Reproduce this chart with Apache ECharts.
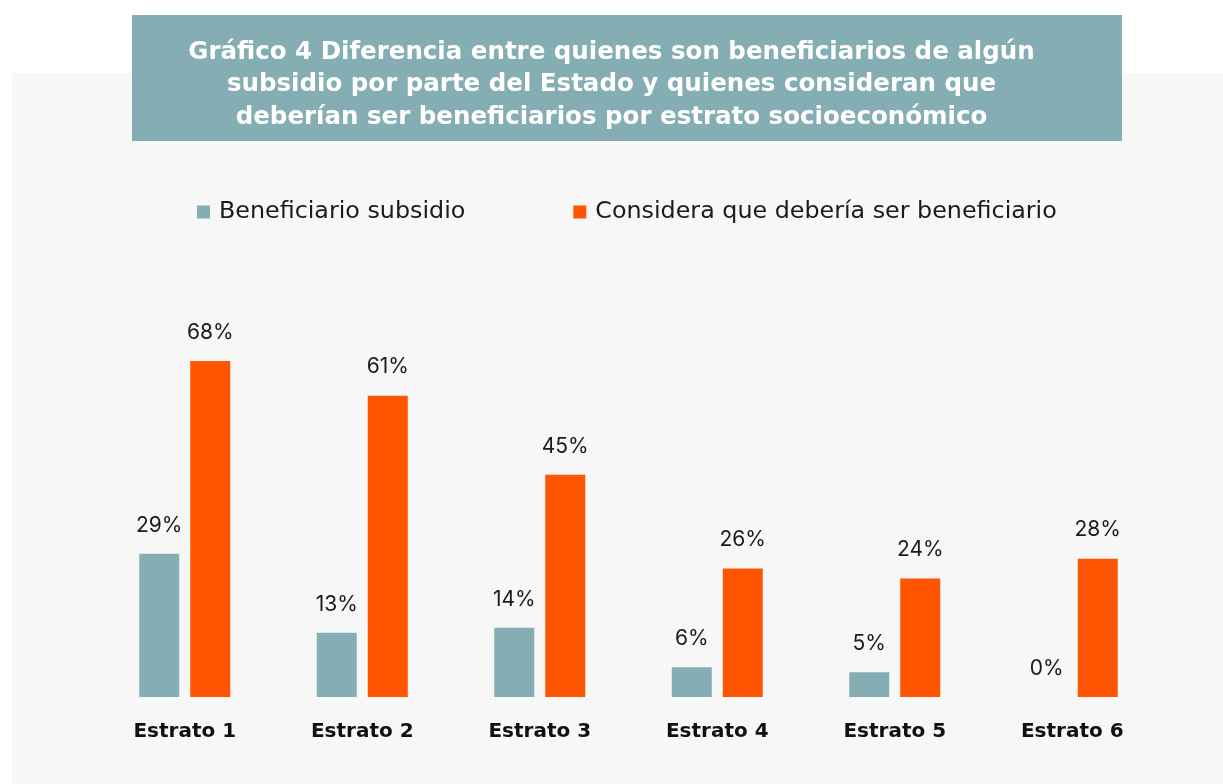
<!DOCTYPE html>
<html><head><meta charset="utf-8">
<script src="https://cdn.jsdelivr.net/npm/echarts@6/dist/echarts.min.js"></script>
<style>html,body{margin:0;padding:0;background:#fff}#c{width:1223px;height:784px}</style>
</head><body><div id="c"></div>
<script>
const categories = ['Estrato 1','Estrato 2','Estrato 3','Estrato 4','Estrato 5','Estrato 6'];
const beneficiario = [29, 13, 14, 6, 5, 0];
const considera = [68, 61, 45, 26, 24, 28];
const seriesNames = ['Beneficiario subsidio', 'Considera que debería ser beneficiario'];
const titleText = 'Gráfico 4 Diferencia entre quienes son beneficiarios de algún\nsubsidio por parte del Estado y quienes consideran que\ndeberían ser beneficiarios por estrato socioeconómico';

const FONT = '"DejaVu Sans", sans-serif';
const FONT2 = 'Inter, sans-serif';
const chart = echarts.init(document.getElementById('c'));
const lbl = {show:true, position:'top', distance:18, formatter:'{c}%', fontSize:21, color:'#1a1a1a', fontFamily:FONT2};
chart.setOption({
  backgroundColor:'#ffffff',
  graphic:[
    {type:'rect', z:-10, shape:{x:12,y:73,width:1211,height:711}, style:{fill:'#f7f7f7'}},
    {type:'rect', z:1, shape:{x:132,y:15,width:990,height:126}, style:{fill:'#84aeb4'}},
    {type:'text', z:2, left:'center', top:36,
      style:{text:titleText, fill:'#ffffff', font:'bold 24.5px '+FONT, textAlign:'center', lineHeight:32.5}}
  ],
  legend:{
    top:195, left:192, itemWidth:13, itemHeight:13, itemGap:108, icon:'rect',
    textStyle:{fontSize:23.8, color:'#1a1a1a', fontFamily:FONT, padding:[0,0,0,4]},
    data:seriesNames
  },
  grid:{left:96, right:62, top:203, bottom:87},
  xAxis:{type:'category', data:categories,
    axisLine:{show:false}, axisTick:{show:false},
    axisLabel:{fontSize:20, fontWeight:'bold', color:'#111', margin:25, fontFamily:FONT}},
  yAxis:{type:'value', min:0, max:100, show:false, splitLine:{show:false}},
  series:[
    {name:seriesNames[0], type:'bar', data:beneficiario, barWidth:40, barGap:'27.5%',
      itemStyle:{color:'#84aeb4'}, label:lbl},
    {name:seriesNames[1], type:'bar', data:considera, barWidth:40, barGap:'27.5%',
      itemStyle:{color:'#ff5500'}, label:lbl}
  ]
});
</script></body></html>
